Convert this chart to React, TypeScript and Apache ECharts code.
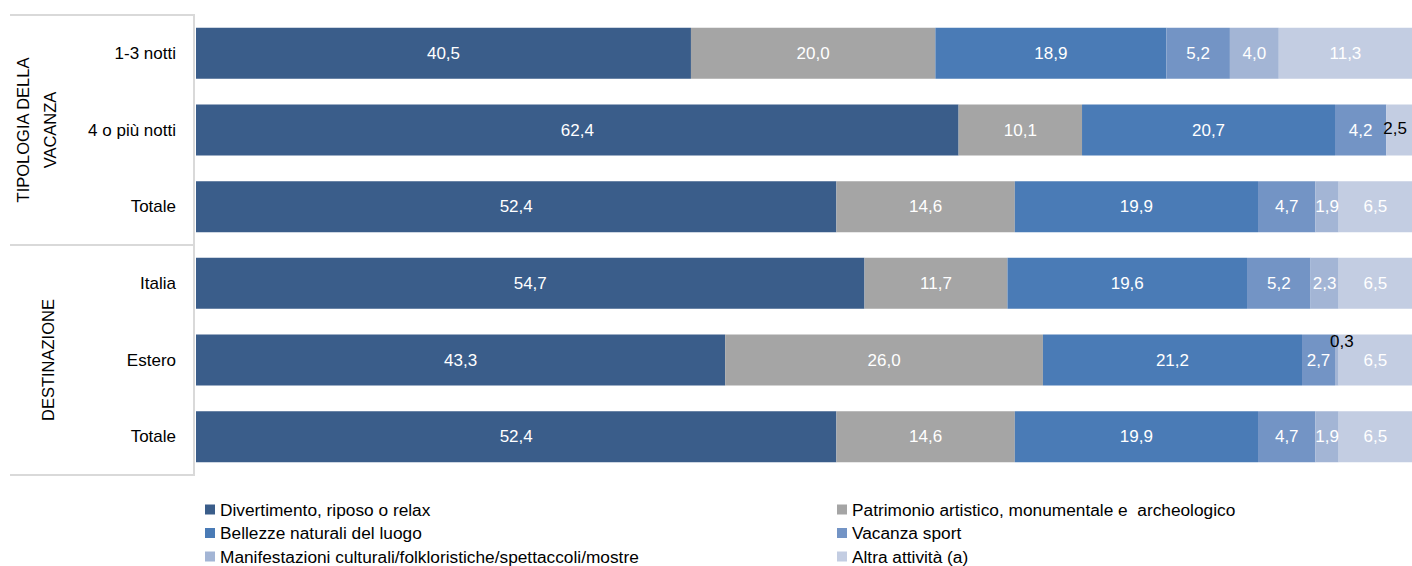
import React, { useEffect, useRef } from "react";
import * as echarts from "echarts";

const categories = ["1-3 notti", "4 o più notti", "Totale", "Italia", "Estero", "Totale "];
const seriesNames = [
  "Divertimento, riposo o relax",
  "Patrimonio artistico, monumentale e  archeologico",
  "Bellezze naturali del luogo",
  "Vacanza sport",
  "Manifestazioni culturali/folkloristiche/spettaccoli/mostre",
  "Altra attività (a)",
];
const divertimento = [40.5, 62.4, 52.4, 54.7, 43.3, 52.4];
const patrimonio = [20.0, 10.1, 14.6, 11.7, 26.0, 14.6];
const bellezze = [18.9, 20.7, 19.9, 19.6, 21.2, 19.9];
const sport = [5.2, 4.2, 4.7, 5.2, 2.7, 4.7];
const manifestazioni = [4.0, 0, 1.9, 2.3, 0.3, 1.9];
const altra = [11.3, 2.5, 6.5, 6.5, 6.5, 6.5];
const groupLabelA = ["TIPOLOGIA DELLA", "VACANZA"];
const groupLabelB = "DESTINAZIONE";

const colors = ["#3a5d8a", "#a5a5a5", "#4a7bb6", "#7394c5", "#a3b5d5", "#c3cde2"];
const FONT = "'Liberation Sans', Arial, sans-serif";

export default function App() {
  const ref = useRef<HTMLDivElement>(null);
  useEffect(() => {
    if (!ref.current) return;
    const chart = echarts.init(ref.current, undefined, { renderer: "svg" });
    const allData = [divertimento, patrimonio, bellezze, sport, manifestazioni, altra];
    const fmt = (v: number) => (v > 0 ? v.toFixed(1).replace(".", ",") : "");
    const series = allData.map((arr, si) => ({
      name: seriesNames[si],
      type: "bar",
      stack: "total",
      barWidth: 51,
      itemStyle: { color: colors[si] },
      emphasis: { disabled: true },
      label: {
        show: true,
        position: "inside",
        color: "#ffffff",
        fontSize: 17,
        fontFamily: FONT,
        formatter: (p: any) => fmt(p.value),
      },
      data: arr.map((v, ci) => {
        if (si === 5 && ci === 1) {
          return { value: v, label: { color: "#000", offset: [-4, -2] } };
        }
        if (si === 4 && ci === 4) {
          return { value: v, label: { color: "#000", offset: [5, -19] } };
        }
        return v;
      }),
    }));
    const lineStyle = { stroke: "#d9d9d9", lineWidth: 2 };
    const legendBase = {
      orient: "vertical",
      top: 501,
      height: 90,
      padding: 0,
      itemWidth: 10,
      itemHeight: 10,
      itemGap: 6.5,
      icon: "rect",
      selectedMode: false,
      textStyle: { fontSize: 17.3, color: "#000", fontFamily: FONT, lineHeight: 17 },
    };
    const rotText = (text: string, x: number, y: number) => ({
      type: "text",
      x,
      y,
      rotation: Math.PI / 2,
      style: {
        text,
        fontSize: 16.5,
        fontFamily: FONT,
        fill: "#000",
        align: "center",
        verticalAlign: "middle",
      },
    });
    chart.setOption({
      animation: false,
      textStyle: { fontFamily: FONT },
      grid: { left: 196, right: 0, top: 15, height: 460 },
      // the plot runs a few pixels past the right edge of the picture
      xAxis: { type: "value", min: 0, max: 99.5, show: false },
      yAxis: {
        type: "category",
        data: categories,
        inverse: true,
        axisLine: { show: false },
        axisTick: { show: false },
        axisLabel: {
          color: "#000",
          fontSize: 17,
          fontFamily: FONT,
          margin: 20,
          formatter: (v: string) => v.trim(),
        },
      },
      legend: [
        { ...legendBase, left: 205, data: [seriesNames[0], seriesNames[2], seriesNames[4]] },
        { ...legendBase, left: 837, data: [seriesNames[1], seriesNames[3], seriesNames[5]] },
      ],
      graphic: [
        { type: "line", shape: { x1: 10, y1: 15, x2: 194, y2: 15 }, style: lineStyle },
        { type: "line", shape: { x1: 10, y1: 245, x2: 194, y2: 245 }, style: lineStyle },
        { type: "line", shape: { x1: 10, y1: 475, x2: 194, y2: 475 }, style: lineStyle },
        { type: "line", shape: { x1: 194, y1: 14, x2: 194, y2: 476 }, style: lineStyle },
        rotText(groupLabelA[0], 23, 130),
        rotText(groupLabelA[1], 50, 130),
        rotText(groupLabelB, 48, 360),
      ],
      series,
    });
    return () => chart.dispose();
  }, []);
  return (
    <div
      ref={ref}
      style={{ position: "fixed", left: 0, top: 0, width: 1412, height: 566, background: "#fff" }}
    />
  );
}
